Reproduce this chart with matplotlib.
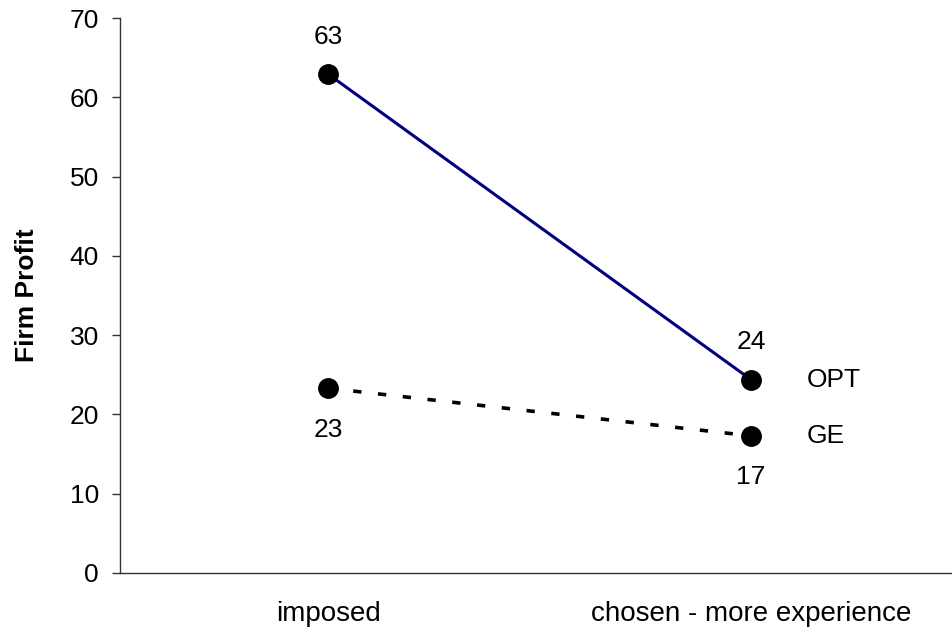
import matplotlib.pyplot as plt

plt.rcParams['font.family'] = ['Liberation Sans', 'DejaVu Sans']

categories = ['imposed', 'chosen - more experience']
opt_values = [62.9, 24.4]
ge_values = [23.3, 17.3]
opt_labels = ['63', '24']
ge_labels = ['23', '17']
y_ticks = [0, 10, 20, 30, 40, 50, 60, 70]

FS = 19

fig = plt.figure(figsize=(9.52, 6.3), dpi=100)
ax = fig.add_axes([0.126, 0.0905, 0.874, 0.8809])

x = list(range(len(categories)))
ax.plot(x, opt_values, color='#000080', linewidth=2.2, marker='o',
        markersize=14, markerfacecolor='black', markeredgecolor='black', zorder=3)
ax.plot(x, ge_values, color='black', linewidth=2.6, dashes=(2.3, 4.6), marker='o',
        markersize=14, markerfacecolor='black', markeredgecolor='black', zorder=3)

# value labels: OPT above, GE below
for xi, v, t in zip(x, opt_values, opt_labels):
    ax.annotate(t, (xi, v), xytext=(0, 27), textcoords='offset points',
                ha='center', va='center', fontsize=FS)
for xi, v, t in zip(x, ge_values, ge_labels):
    ax.annotate(t, (xi, v), xytext=(0, -30), textcoords='offset points',
                ha='center', va='center', fontsize=FS)

# series names to the right of the last points
ax.annotate('OPT', (x[-1], opt_values[-1]), xytext=(40, 0), textcoords='offset points',
            ha='left', va='center', fontsize=FS)
ax.annotate('GE', (x[-1], ge_values[-1]), xytext=(40, 0), textcoords='offset points',
            ha='left', va='center', fontsize=FS)

ax.set_xlim(-0.4935, 1.476)
ax.set_ylim(0, 70)
ax.set_yticks(y_ticks)
ax.set_xticks(x)
ax.set_xticklabels(categories)
ax.tick_params(axis='x', length=0, pad=20, labelsize=20)
ax.tick_params(axis='y', length=6, width=1, pad=9, labelsize=FS, color='#333333')

for side in ['top', 'right']:
    ax.spines[side].set_visible(False)
for side in ['left', 'bottom']:
    ax.spines[side].set_color('#333333')
    ax.spines[side].set_linewidth(1)

ax.set_ylabel('Firm Profit', fontsize=FS, fontweight='bold', labelpad=22)

fig.savefig('out.png', dpi=100)
